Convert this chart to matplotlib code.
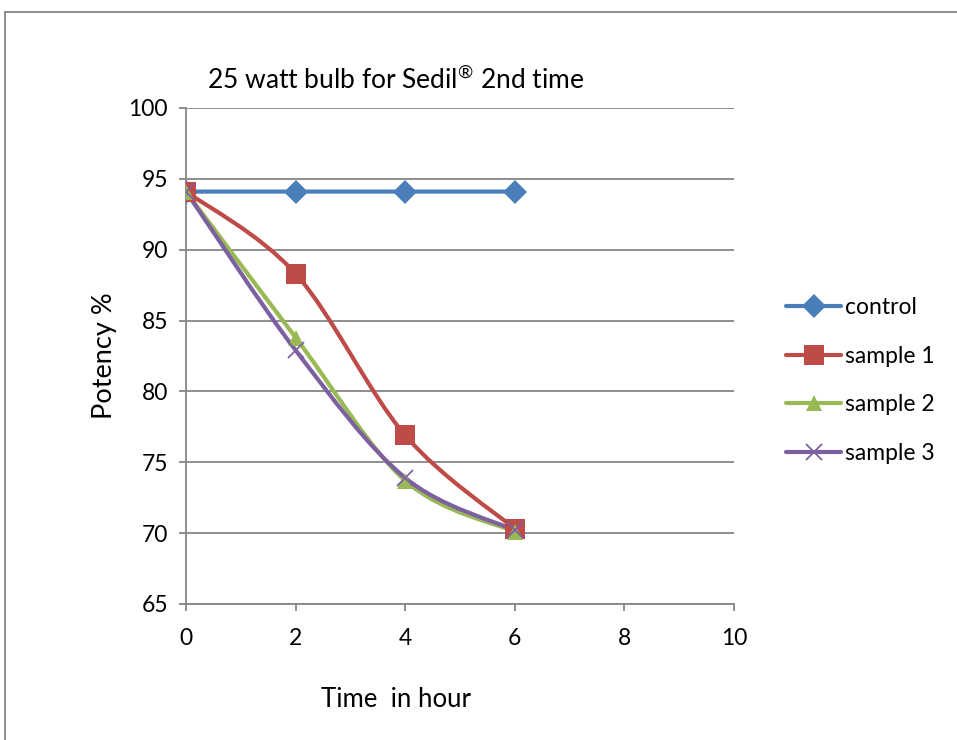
import matplotlib.pyplot as plt
from matplotlib.path import Path
from matplotlib.patches import PathPatch, Rectangle
from matplotlib.lines import Line2D

plt.rcParams['font.family'] = ['Lato', 'DejaVu Sans']
plt.rcParams['mathtext.fontset'] = 'custom'
plt.rcParams['mathtext.rm'] = 'Lato'

hours = [0, 2, 4, 6]
control = [94.1, 94.1, 94.1, 94.1]
sample1 = [94.1, 88.3, 76.9, 70.3]
sample2 = [94.1, 83.8, 73.7, 70.1]
sample3 = [94.1, 82.9, 73.9, 70.2]

series = [
    ('control', control, '#4A7EBB', 'D', 12),
    ('sample 1', sample1, '#BE4B48', 's', 14),
    ('sample 2', sample2, '#98B954', '^', 12),
    ('sample 3', sample3, '#7D60A0', 'x', 12),
]


def smooth_path(xs, ys, t=1 / 6):
    # excel style smoothed line: cubic bezier through the points
    pts = list(zip(xs, ys))
    verts = [pts[0]]
    codes = [Path.MOVETO]
    n = len(pts)
    for i in range(n - 1):
        p0 = pts[i - 1] if i > 0 else pts[i]
        p1 = pts[i]
        p2 = pts[i + 1]
        p3 = pts[i + 2] if i + 2 < n else pts[i + 1]
        c1 = (p1[0] + (p2[0] - p0[0]) * t, p1[1] + (p2[1] - p0[1]) * t)
        c2 = (p2[0] - (p3[0] - p1[0]) * t, p2[1] - (p3[1] - p1[1]) * t)
        verts += [c1, c2, p2]
        codes += [Path.CURVE4] * 3
    return Path(verts, codes)


fig = plt.figure(figsize=(9.57, 7.4), dpi=100)
ax = fig.add_axes([0.1944, 0.1838, 0.5726, 0.6703])

handles = []
for name, vals, color, mk, ms in series:
    ax.add_patch(PathPatch(smooth_path(hours, vals), fill=False, edgecolor=color,
                           lw=3, capstyle='round', joinstyle='round', zorder=3))
    mew = 1.3 if mk == 'x' else 0
    ax.plot(hours, vals, ls='none', marker=mk, ms=ms, color=color, mec=color, mew=mew, zorder=4)
    handles.append(Line2D([], [], color=color, lw=3, marker=mk, ms=ms,
                          mec=color, mew=mew, solid_capstyle='round'))

ax.set_xlim(0, 10)
ax.set_ylim(65, 100)
ax.set_xticks(range(0, 11, 2))
ax.set_yticks(range(65, 101, 5))
ax.yaxis.grid(True, color='#868686', lw=1.3)
ax.set_axisbelow(True)
for s in ['top', 'right']:
    ax.spines[s].set_visible(False)
for s in ['left', 'bottom']:
    ax.spines[s].set_color('#868686')
    ax.spines[s].set_linewidth(1.3)
ax.tick_params(colors='#868686', labelcolor='black', labelsize=16.5, length=5, width=1.3)
ax.tick_params(axis='x', pad=12)
ax.tick_params(axis='y', pad=8)

ax.set_xlabel('Time  in hour', fontsize=18.5, labelpad=28, x=0.383)
ax.set_ylabel('Potency %', fontsize=19.5, labelpad=8)

fig.text(0.216, 0.892, r'25 watt bulb for Sedil$^{\mathregular{®}}$ 2nd time', fontsize=19, va='center')

fig.legend(handles, [s[0] for s in series], loc='center left',
           bbox_to_anchor=(0.800, 0.486), frameon=False, fontsize=16.5,
           handlelength=2.4, handletextpad=0.15, labelspacing=1.2)

fig.add_artist(Rectangle((5 / 957, -0.1), 1.2, 1 - 12 / 740 + 0.1,
                         transform=fig.transFigure, fill=False,
                         edgecolor='#868686', lw=1.3))

plt.savefig('out.png', dpi=100)
